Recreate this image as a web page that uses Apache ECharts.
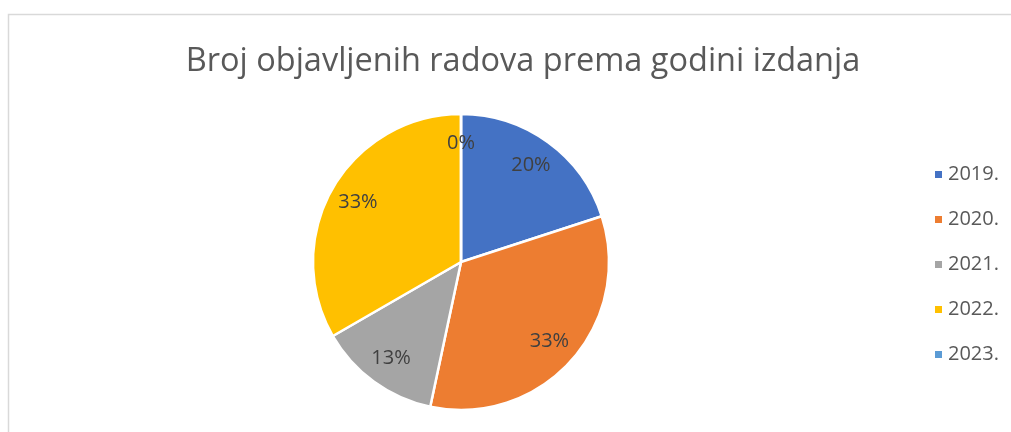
<!DOCTYPE html>
<html>
<head>
<meta charset="utf-8">
<script src="https://cdn.jsdelivr.net/npm/echarts@6/dist/echarts.min.js"></script>
<style>
html,body{margin:0;padding:0;background:#fff;}
#chart{width:1011px;height:432px;}
</style>
</head>
<body>
<div id="chart"></div>
<script>
const titleText = 'Broj objavljenih radova prema godini izdanja';
const categories = ['2019.', '2020.', '2021.', '2022.', '2023.'];
const values = [3, 5, 2, 5, 0];
const colors = ['#4472C4', '#ED7D31', '#A5A5A5', '#FFC000', '#5B9BD5'];

const total = values.reduce((a, b) => a + b, 0);
const pieData = categories.map((c, i) => ({ name: c, value: values[i], itemStyle: { color: colors[i] } }));

const chart = echarts.init(document.getElementById('chart'));
chart.setOption({
  animation: false,
  backgroundColor: '#fff',
  graphic: [{
    type: 'rect',
    shape: { x: 8.5, y: 14.5, width: 1100, height: 500 },
    style: { fill: 'none', stroke: '#d9d9d9', lineWidth: 1.5 },
    silent: true
  }],
  title: {
    text: titleText,
    left: 518,
    textAlign: 'center',
    top: 40,
    textStyle: { fontFamily: 'Open Sans', fontSize: 32.5, fontWeight: 'normal', color: '#595959' }
  },
  legend: {
    orient: 'vertical',
    left: 928,
    top: 158,
    itemWidth: 9,
    itemHeight: 9,
    itemGap: 22,
    icon: 'rect',
    textStyle: { fontFamily: 'Open Sans', fontSize: 20, color: '#595959', lineHeight: 23, padding: [0, 0, 0, 0] },
    data: categories
  },
  series: [{
    type: 'pie',
    center: [461, 262],
    radius: [0, 148],
    startAngle: 90,
    clockwise: true,
    silent: true,
    itemStyle: { borderColor: '#fff', borderWidth: 2.5 },
    label: { show: false },
    labelLine: { show: false },
    data: pieData
  }, {
    type: 'pie',
    center: [461, 262],
    radius: [84, 148],
    startAngle: 90,
    clockwise: true,
    silent: true,
    legendHoverLink: false,
    itemStyle: { color: 'rgba(0,0,0,0)', borderWidth: 0 },
    label: {
      show: true,
      position: 'inside',
      fontFamily: 'Open Sans',
      fontSize: 20,
      color: '#404040',
      formatter: p => Math.round(p.value / total * 100) + '%'
    },
    labelLine: { show: false },
    data: categories.map((c, i) => ({ name: c + ' ', value: values[i] }))
  }]
});
</script>
</body>
</html>
